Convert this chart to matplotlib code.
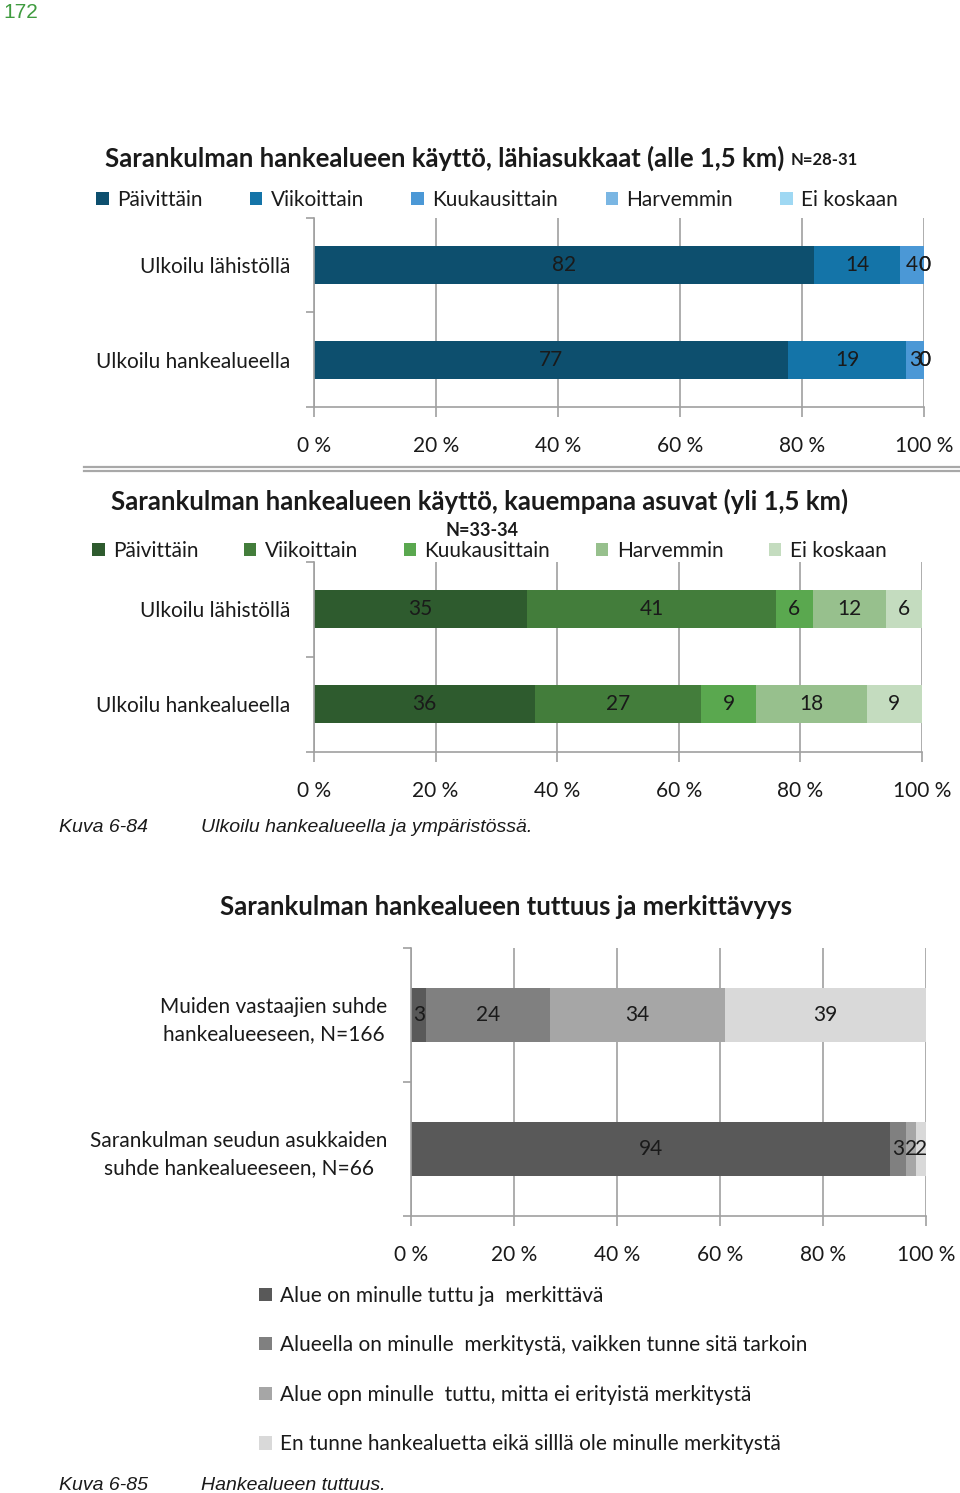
import numpy as np
import matplotlib.pyplot as plt
from matplotlib.lines import Line2D

plt.rcParams['font.family'] = ['Lato', 'DejaVu Sans']

W, H = 960, 1493

# --- data ---
freq_labels = ["Päivittäin", "Viikoittain", "Kuukausittain", "Harvemmin", "Ei koskaan"]
use_cats = ["Ulkoilu lähistöllä", "Ulkoilu hankealueella"]

near_vals = [  # lähiasukkaat, per category
    [82, 14, 4, 0, 0],
    [77, 19, 3, 0, 0],
]
far_vals = [  # kauempana asuvat
    [35, 41, 6, 12, 6],
    [36, 27, 9, 18, 9],
]
blues = ["#0d4f6e", "#1474a8", "#4b98d6", "#7ab6e3", "#9fd8f3"]
greens = ["#2e5b2e", "#437d3b", "#5aa84f", "#97c08d", "#c4dcbf"]

fam_labels = ["Alue on minulle tuttu ja  merkittävä",
              "Alueella on minulle  merkitystä, vaikken tunne sitä tarkoin",
              "Alue opn minulle  tuttu, mitta ei erityistä merkitystä",
              "En tunne hankealuetta eikä silllä ole minulle merkitystä"]
fam_cats = ["Muiden vastaajien suhde\nhankealueeseen, N=166",
            "Sarankulman seudun asukkaiden\nsuhde hankealueeseen, N=66"]
fam_vals = [
    [3, 24, 34, 39],
    [94, 3, 2, 2],
]
grays = ["#595959", "#808080", "#a6a6a6", "#d9d9d9"]

xticks = [0, 20, 40, 60, 80, 100]
xticklabels = ["0 %", "20 %", "40 %", "60 %", "80 %", "100 %"]

GRID = "#a0a0a0"
TXT = "#1a1a1a"
FS = 15


def box(l, t, r, b):
    return [l / W, 1 - b / H, (r - l) / W, (b - t) / H]


def fx(x):
    return x / W


def fy(y):
    return 1 - y / H


def stacked(ax, cats, vals, colors, names, height=0.4):
    vals = np.array(vals, dtype=float)
    share = vals / vals.sum(axis=1, keepdims=True) * 100  # 100 % stacked
    y = np.arange(len(cats))
    left = np.zeros(len(cats))
    handles = []
    for j in range(vals.shape[1]):
        bars = ax.barh(y, share[:, j], left=left, height=height,
                       color=colors[j], label=names[j], zorder=2)
        ax.bar_label(bars, labels=[f"{v:.0f}" for v in vals[:, j]],
                     label_type='center', fontsize=FS, color=TXT)
        left += share[:, j]
        handles.append(bars)
    ax.set_xlim(0, 100)
    ax.set_ylim(len(cats) - 0.5, -0.5)
    ax.set_xticks(xticks)
    ax.set_xticklabels(xticklabels, fontsize=FS, color=TXT)
    ax.set_yticks(y)
    ax.set_yticklabels(cats, fontsize=FS, color=TXT, multialignment='center',
                       linespacing=1.45)
    ax.set_yticks(np.arange(len(cats) + 1) - 0.5, minor=True)
    ax.tick_params(axis='y', which='major', length=0, pad=17)
    ax.tick_params(axis='y', which='minor', length=6, color=GRID, width=1.2)
    ax.tick_params(axis='x', length=7, color=GRID, width=1.2, pad=14)
    ax.xaxis.grid(True, color=GRID, lw=1.2, zorder=0)
    ax.set_axisbelow(True)
    for s in ['top', 'right']:
        ax.spines[s].set_visible(False)
    for s in ['left', 'bottom']:
        ax.spines[s].set_color(GRID)
        ax.spines[s].set_linewidth(1.2)
    return handles


fig = plt.figure(figsize=(W / 100, H / 100), dpi=100)

fig.text(fx(3), fy(13), "172", fontsize=15, color="#3f9b3f",
         family="Liberation Sans", va='center')

# --- chart 1 ---
ax1 = fig.add_axes(box(314, 218, 924, 407))
h1 = stacked(ax1, use_cats, near_vals, blues, freq_labels)
fig.text(fx(105), fy(158), "Sarankulman hankealueen käyttö, lähiasukkaat (alle 1,5 km)",
         fontsize=18.5, fontweight='bold', color=TXT, va='center')
fig.text(fx(791), fy(160), "N=28-31", fontsize=12, fontweight='bold', color=TXT, va='center')
fig.legend(handles=h1, loc='center left', bbox_to_anchor=(fx(96), fy(200)),
           ncol=5, frameon=False, fontsize=FS, borderpad=0, borderaxespad=0,
           handlelength=0.6, handleheight=0.6, handletextpad=0.4,
           columnspacing=2.28, labelcolor=TXT)

# separator
for yy in (467, 470.5):
    fig.add_artist(Line2D([fx(84), fx(960)], [fy(yy), fy(yy)], color="#a8a8a8", lw=1.6))

# --- chart 2 ---
ax2 = fig.add_axes(box(314, 562, 922, 752))
h2 = stacked(ax2, use_cats, far_vals, greens, freq_labels)
fig.text(fx(111), fy(501), "Sarankulman hankealueen käyttö, kauempana asuvat (yli 1,5 km)",
         fontsize=18.5, fontweight='bold', color=TXT, va='center')
fig.text(fx(482), fy(531), "N=33-34", fontsize=13, fontweight='bold', color=TXT,
         va='center', ha='center')
fig.legend(handles=h2, loc='center left', bbox_to_anchor=(fx(92), fy(551)),
           ncol=5, frameon=False, fontsize=FS, borderpad=0, borderaxespad=0,
           handlelength=0.6, handleheight=0.6, handletextpad=0.4,
           columnspacing=2.19, labelcolor=TXT)

cap = dict(family="Liberation Sans", style='italic', fontsize=14, color=TXT, va='center')
fig.text(fx(59), fy(828), "Kuva 6-84", **cap)
fig.text(fx(201), fy(828), "Ulkoilu hankealueella ja ympäristössä.", **cap)

# --- chart 3 ---
ax3 = fig.add_axes(box(411, 948, 926, 1216))
h3 = stacked(ax3, fam_cats, fam_vals, grays, fam_labels)
fig.text(fx(506), fy(907), "Sarankulman hankealueen tuttuus ja merkittävyys",
         fontsize=18.5, fontweight='bold', color=TXT, va='center', ha='center')
fig.legend(handles=h3, loc='center left', bbox_to_anchor=(fx(259), fy(1370)),
           ncol=1, frameon=False, fontsize=FS, borderpad=0, borderaxespad=0,
           handlelength=0.6, handleheight=0.6, handletextpad=0.4,
           labelspacing=1.42, labelcolor=TXT)

fig.text(fx(59), fy(1485), "Kuva 6-85", **cap)
fig.text(fx(201), fy(1485), "Hankealueen tuttuus.", **cap)

fig.savefig("out.png", dpi=100)
